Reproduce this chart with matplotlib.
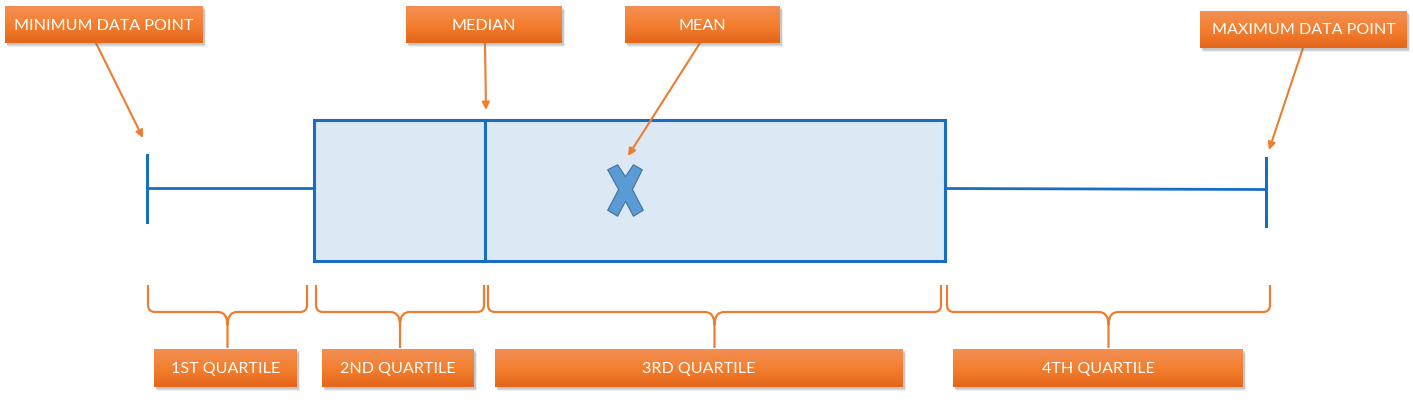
#!/usr/bin/env python3
"""Annotated box plot diagram: min, quartiles, median, mean, max."""
import numpy as np
import matplotlib
matplotlib.use("Agg")
import matplotlib.pyplot as plt
from matplotlib.path import Path
from matplotlib.patches import PathPatch, Rectangle
from matplotlib.colors import to_rgb

W, H = 1413, 404

# summary stats (in the diagram's horizontal units)
stat_names = ["min", "q1", "median", "q3", "max"]
stat_values = [147, 314, 485, 945, 1266]
mean_value = 625

# callout labels
top_labels = ["MINIMUM DATA POINT", "MEDIAN", "MEAN", "MAXIMUM DATA POINT"]
top_targets = ["min", "median", "mean", "max"]
quartile_labels = ["1ST QUARTILE", "2ND QUARTILE", "3RD QUARTILE", "4TH QUARTILE"]

BLUE = "#1a6ec1"
BOX_FILL = "#dde8f5"
ORANGE = "#ed7d31"
GRAD_TOP = "#f28f55"
GRAD_MID = "#f47f2f"
GRAD_BOT = "#e4661b"

plt.rcParams["font.family"] = ["Lato", "DejaVu Sans"]

fig = plt.figure(figsize=(W / 100, H / 100), dpi=100)
ax = fig.add_axes([0, 0, 1, 1])
ax.set_xlim(0, W)
ax.set_ylim(H, 0)
ax.axis("off")

s = dict(zip(stat_names, stat_values))
s["mean"] = mean_value
box_top, box_bot = 120, 261
yc = (box_top + box_bot) / 2 - 2


def orange_box(x, y, w, h, text):
    # soft shadow
    for k, a in [(3, 0.12), (2, 0.18), (1, 0.22)]:
        ax.add_patch(Rectangle((x + 1 + k * 0.5, y + 1 + k), w, h, fc="#7f7f7f",
                               ec="none", alpha=a, zorder=4))
    c0, c1, c2 = (np.array(to_rgb(c)) for c in (GRAD_TOP, GRAD_MID, GRAD_BOT))
    t = np.linspace(0, 1, 64)[:, None]
    grad = np.where(t < 0.5, c0 + (c1 - c0) * (t / 0.5), c1 + (c2 - c1) * ((t - 0.5) / 0.5))
    ax.imshow(grad[:, None, :], extent=(x, x + w, y + h, y), origin="upper",
              aspect="auto", zorder=5, interpolation="bilinear")
    ax.text(x + w / 2, y + h / 2 + 1, text, color="white", ha="center", va="center",
            fontsize=11.6, zorder=6)


def brace(a, b, y_top=285, y_mid=312, y_tip=348):
    c = (a + b) / 2
    r = 7
    verts = [(a, y_top), (a, y_mid - r), (a, y_mid), (a + r, y_mid),
             (c - 10, y_mid), (c, y_mid), (c, y_mid + 13), (c, y_tip),
             (c, y_mid + 13), (c, y_mid), (c + 10, y_mid),
             (b - r, y_mid), (b, y_mid), (b, y_mid - r), (b, y_top)]
    codes = [Path.MOVETO, Path.LINETO, Path.CURVE3, Path.CURVE3,
             Path.LINETO, Path.CURVE3, Path.CURVE3, Path.LINETO,
             Path.MOVETO, Path.CURVE3, Path.CURVE3,
             Path.LINETO, Path.CURVE3, Path.CURVE3, Path.LINETO]
    ax.add_patch(PathPatch(Path(verts, codes), fc="none", ec=ORANGE, lw=1.6,
                           capstyle="butt", zorder=3))


# whiskers and caps
ax.plot([s["min"], s["q1"]], [yc - 1, yc - 1], color=BLUE, lw=2.0, zorder=2)
ax.plot([s["q3"], s["max"]], [yc, yc + 1], color=BLUE, lw=2.0, zorder=2)
ax.plot([s["min"], s["min"]], [yc - 34, yc + 33], color=BLUE, lw=2.2, zorder=2)
ax.plot([s["max"], s["max"]], [yc - 31, yc + 37], color=BLUE, lw=2.2, zorder=2)

# box and median
ax.add_patch(Rectangle((s["q1"], box_top), s["q3"] - s["q1"], box_bot - box_top,
                       fc=BOX_FILL, ec=BLUE, lw=2.2, zorder=2))
ax.plot([s["median"], s["median"]], [box_top, box_bot], color=BLUE, lw=2.2, zorder=3)

# mean marker (tall X)
xv = np.array([-18, -8, 0, 8, 17, 7, 18, 8, 0, -8, -18, -7, -18])
yv = np.array([-21, -26, -14, -26, -21, -1, 20, 26, 11, 26, 20, -1, -21])
x_marker = Path(np.column_stack([xv, -yv]), closed=True)
ax.plot([s["mean"]], [yc + 1], marker=x_marker, markersize=37, color="#5b9bd5",
        markeredgecolor="#41719c", markeredgewidth=0.8, zorder=4)

# top callouts
top_boxes = [(5, 6, 198, 37), (406, 6, 156, 37), (625, 6, 155, 37), (1200, 11, 207, 37)]
arrow_from = [96, 485, 700, 1303]
arrow_to = [(-4, 138), (1, 110), (3, 156), (3, 150)]
for label, key, (x, y, w, h), fx, (dx, ty) in zip(top_labels, top_targets, top_boxes,
                                                   arrow_from, arrow_to):
    orange_box(x, y, w, h, label)
    ax.annotate("", xy=(s[key] + dx, ty), xytext=(fx, y + h),
                arrowprops=dict(arrowstyle="-|>", color=ORANGE, lw=1.5,
                                mutation_scale=11, shrinkA=0, shrinkB=0), zorder=3)

# quartile braces and labels
spans = [(s["min"] + 1, s["q1"] - 7), (s["q1"] + 2, s["median"] - 1),
         (s["median"] + 3, s["q3"] - 4), (s["q3"] + 2, s["max"] + 4)]
q_boxes = [(154, 349, 143, 38), (322, 349, 152, 38), (495, 349, 408, 38), (953, 349, 290, 38)]
for label, (a, b), (x, y, w, h) in zip(quartile_labels, spans, q_boxes):
    brace(a, b)
    orange_box(x, y, w, h, label)

fig.savefig("out.png", dpi=100)
